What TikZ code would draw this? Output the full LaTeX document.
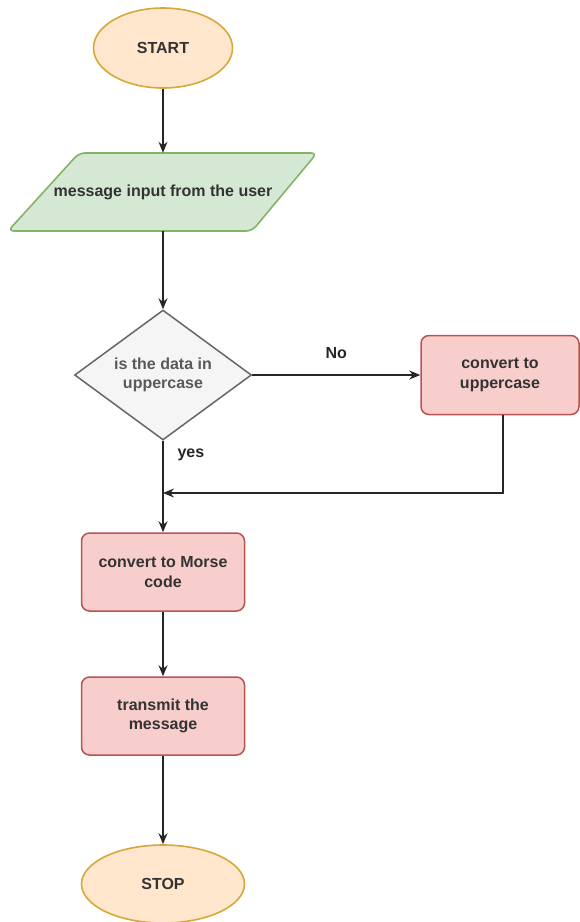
\documentclass[tikz,border=0pt]{standalone}
\usepackage{fontspec}
\setmainfont{Liberation Sans}
\usepackage{tikz}
\usetikzlibrary{shapes.geometric,arrows.meta}

\definecolor{termfill}{HTML}{FFE6CC}
\definecolor{termline}{HTML}{D6A83A}
\definecolor{iofill}{HTML}{D5E8D4}
\definecolor{ioline}{HTML}{82B366}
\definecolor{decfill}{HTML}{F5F5F5}
\definecolor{decline}{HTML}{666666}
\definecolor{procfill}{HTML}{F8CECC}
\definecolor{procline}{HTML}{B85450}

\begin{document}
\begin{tikzpicture}[x=1pt,y=-1pt,
  every node/.style={font=\bfseries\fontsize{16}{19.5}\selectfont, text=black!80},
  term/.style={ellipse, draw=termline, fill=termfill, line width=1.6pt,
    minimum width=139pt, minimum height=80pt},
  iobox/.style={draw=ioline, fill=iofill, line width=1.6pt, rounded corners=6pt},
  iotext/.style={minimum height=78pt, inner sep=0pt},
  decision/.style={diamond, draw=decline, fill=decfill, line width=1.5pt, aspect=1.36,
    minimum width=177pt, minimum height=130pt, inner sep=1pt, align=center, text=black!65},
  process/.style={rectangle, rounded corners=8pt, draw=procline, fill=procfill, line width=1.5pt,
    minimum width=163pt, minimum height=78pt, align=center},
  arr/.style={-{Stealth[length=11pt,width=9pt]}, line width=1.2pt, draw=black!85},
  lbl/.style={inner sep=2pt, text=black!85}]
  \useasboundingbox (0,0) rectangle (580,922);

  \node[term] (start) at (163,48) {START};

  % input box (parallelogram drawn round the text node)
  \coordinate (in) at (163,192);
  \draw[iobox,shift={(in)}] (-84,-39) -- (154,-39) -- (89,39) -- (-155,39) -- cycle;
  \node[iotext] (input) at (in) {message input from the user};

  \node[decision] (check) at (163,375) {is the data in\\uppercase};
  \node[process, minimum width=158pt, minimum height=79pt] (upper) at (500,375) {convert to\\uppercase};
  \coordinate (merge) at (163,493);
  \node[process] (morse) at (163,572) {convert to Morse\\code};
  \node[process] (send) at (163,716) {transmit the\\message};
  \node[term, minimum width=163pt, minimum height=78pt] (stop) at (163,884) {STOP};

  \draw[arr] (start) -- (input);
  \draw[arr] (input) -- (check);
  \draw[arr] (check) -- node[lbl,midway,above=14pt] {No} (upper);
  \draw[arr] (check) -- node[lbl,pos=0.15,right=12pt] {yes} (morse);
  \draw[arr] ([xshift=3pt]upper.south) |- (merge);
  \draw[arr] (morse) -- (send);
  \draw[arr] (send) -- (stop);
\end{tikzpicture}
\end{document}
